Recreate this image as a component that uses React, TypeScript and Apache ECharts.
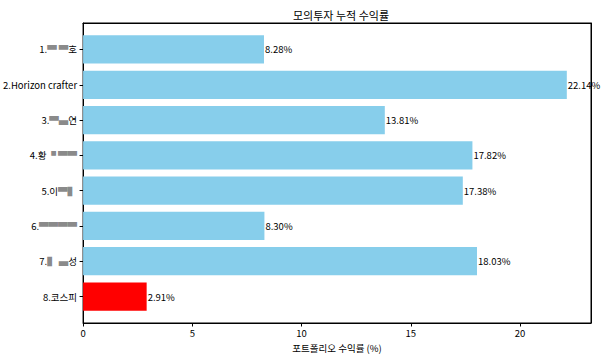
import React, { useEffect, useRef } from "react";
import * as echarts from "echarts";

const names: string[] = [
  "1.{m|▀ ▀}호",
  "2.Horizon crafter",
  "3.{m|▀▄}연",
  "4.황{m|▝ ▀▀}",
  "5.이{m|▀▌}",
  "6.{m|▀▀▀▀}",
  "7.{m|▌ ▄}성",
  "8.코스피",
];
const returns: number[] = [8.28, 22.14, 13.81, 17.82, 17.38, 8.3, 18.03, 2.91];
const colors: string[] = ["#87CEEB", "#87CEEB", "#87CEEB", "#87CEEB", "#87CEEB", "#87CEEB", "#87CEEB", "#FF0000"];
const xTicks: number[] = [0, 5, 10, 15, 20];
const title = "모의투자 누적 수익률";
const xName = "포트폴리오 수익률 (%)";

const FONT = "'Noto Sans CJK KR', 'Noto Sans', sans-serif";

export default function App() {
  const ref = useRef<HTMLDivElement>(null);
  useEffect(() => {
    if (!ref.current) return;
    const chart = echarts.init(ref.current, null, { renderer: "svg" });
    const idx = names.map((_, i) => i);
    const data = returns.map((v, i) => [v, i]);
    const xMax = Math.max(...returns) * 1.05;
    const yMin = -0.75;
    const yMax = names.length - 0.25;
    const frameLine = { show: true, onZero: false, lineStyle: { color: "#000", width: 1 } };
    chart.setOption({
      animation: false,
      backgroundColor: "#fff",
      title: {
        text: title,
        left: 336,
        top: 4,
        textAlign: "center",
        textStyle: { fontFamily: FONT, fontSize: 11, fontWeight: "normal", color: "#000" },
      },
      grid: {
        left: 82,
        right: 11,
        top: 23,
        bottom: 35,
        show: true,
        borderColor: "#000",
        borderWidth: 1,
        backgroundColor: "transparent",
      },
      xAxis: [
        {
          type: "value",
          min: 0,
          max: xMax,
          interval: 5,
          name: xName,
          nameLocation: "middle",
          nameGap: 20,
          nameTextStyle: { fontFamily: FONT, fontSize: 9.5, color: "#000" },
          axisLine: frameLine,
          axisTick: { show: true, length: 3.5, lineStyle: { color: "#000" }, customValues: xTicks },
          axisLabel: { fontFamily: FONT, fontSize: 9.5, color: "#000", margin: 5, customValues: xTicks },
          splitLine: { show: false },
        },
        {
          type: "value",
          position: "top",
          min: 0,
          max: xMax,
          axisLine: { show: true, onZero: false, lineStyle: { color: "#000", width: 1.2 } },
          axisTick: { show: false },
          axisLabel: { show: false },
          splitLine: { show: false },
        },
      ],
      yAxis: [
        {
          type: "value",
          inverse: true,
          min: yMin,
          max: yMax,
          axisLine: frameLine,
          axisTick: { show: true, length: 3.5, lineStyle: { color: "#000" }, customValues: idx },
          axisLabel: {
            customValues: idx,
            fontFamily: FONT,
            fontSize: 9.5,
            color: "#000",
            margin: 6,
            formatter: (v: number) => names[Math.round(v)] ?? "",
            rich: { m: { color: "#8a8a8a", fontFamily: FONT, fontSize: 9.5 } },
          },
          splitLine: { show: false },
        },
        {
          type: "value",
          position: "right",
          inverse: true,
          min: yMin,
          max: yMax,
          axisLine: frameLine,
          axisTick: { show: false },
          axisLabel: { show: false },
          splitLine: { show: false },
        },
      ],
      series: [
        {
          type: "custom",
          xAxisIndex: 0,
          yAxisIndex: 0,
          data,
          clip: false,
          renderItem: (params: any, api: any) => {
            const v = api.value(0);
            const i = api.value(1);
            const start = api.coord([0, i]);
            const end = api.coord([v, i]);
            const h = api.size([0, 0.8])[1];
            return {
              type: "group",
              children: [
                {
                  type: "rect",
                  shape: { x: start[0], y: start[1] - h / 2, width: end[0] - start[0], height: h },
                  style: { fill: colors[i] },
                },
                {
                  type: "text",
                  x: end[0] + 1,
                  y: end[1],
                  style: {
                    text: v.toFixed(2) + "%",
                    fontFamily: FONT,
                    fontSize: 9.5,
                    fill: "#000",
                    verticalAlign: "middle",
                    align: "left",
                  },
                },
              ],
            };
          },
        },
      ],
    });
    return () => chart.dispose();
  }, []);
  return <div ref={ref} style={{ width: 602, height: 358, position: "absolute", left: 0, top: 0 }} />;
}
